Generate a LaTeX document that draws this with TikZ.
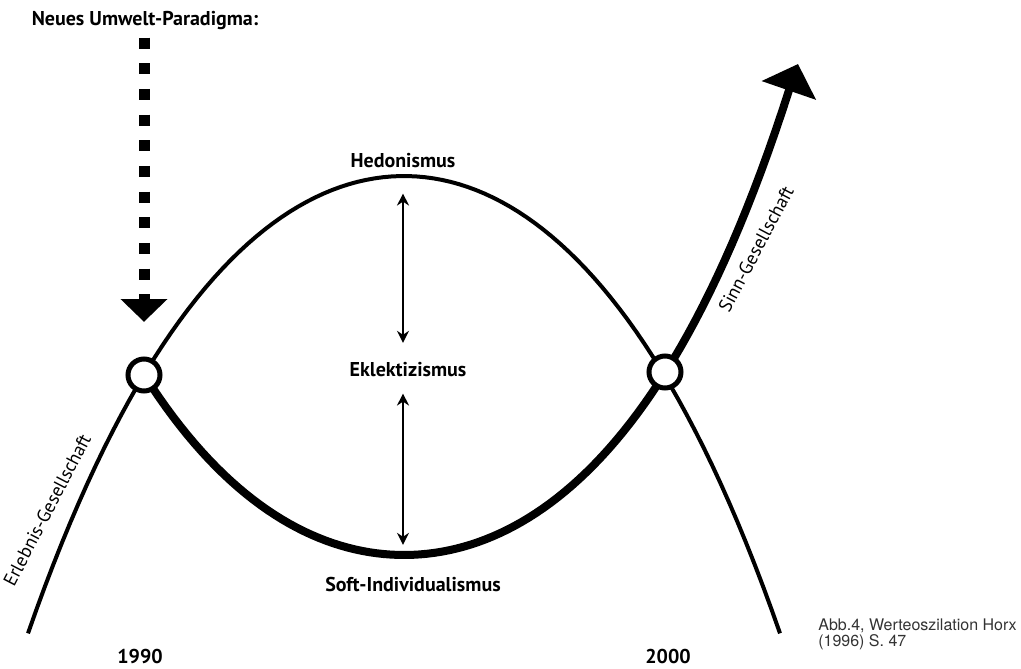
\documentclass[tikz,border=0pt]{standalone}
\usepackage{fontspec}
\setmainfont{PT Sans}
\newfontfamily\abbfont{TeX Gyre Heros}
\usetikzlibrary{arrows.meta}

\begin{document}
\begin{tikzpicture}[x=0.75pt,y=-0.75pt,
  lbl/.style={font=\bfseries\fontsize{15}{17}\selectfont, anchor=base, inner sep=0pt},
  kurvlbl/.style={font=\fontsize{14}{16}\selectfont, inner sep=0pt},
  ring/.style={circle, draw, fill=white, line width=3.75pt, minimum size=24pt, inner sep=0pt},
  duo/.style={{Stealth[length=9pt,width=9pt]}-{Stealth[length=9pt,width=9pt]}, line width=1.5pt},
  paradigm/.style={line width=8.25pt, dash pattern=on 8.25pt off 11pt, -{Triangle[length=17pt,width=34pt]}}]
\useasboundingbox (0,0) rectangle (1021,668);

% Kurven
\draw[line width=3pt, domain=28:780, samples=90] plot (\x, {176+336.5*((exp(0.004*(\x-404))+exp(-0.004*(\x-404)))/2-1)});
\coordinate (spitze) at (798,64);
\draw[line width=6pt, domain=144:790, samples=90, -{Triangle[length=21pt,width=42pt]}] plot (\x, {555-185.4*((exp(0.005*(\x-404))+exp(-0.005*(\x-404)))/2-1)}) -- (spitze);

% Wendepunkte
\node[ring] (c90) at (144,375) {};
\node[ring] (c00) at (665,372) {};

% Beschriftungen
\node[lbl] (para) at (145,25) {Neues Umwelt-Paradigma:};
\node[lbl] (hedo) at (403,167) {Hedonismus};
\node[lbl] (ekl) at (408,376) {Eklektizismus};
\node[lbl] (soft) at (413,591) {Soft-Individualismus};
\node[lbl] (y90) at (140,663) {1990};
\node[lbl] (y00) at (668,663) {2000};
\node[kurvlbl, rotate=62.5] (erl) at (47,510) {Erlebnis-Gesellschaft};
\node[kurvlbl, rotate=62] (sinn) at (756,249) {Sinn-Gesellschaft};
\node[font=\abbfont\fontsize{12}{12}\selectfont, align=left, anchor=north west, inner sep=0pt, text=black!80] (abb) at (818,619) {Abb.4, Werteoszilation Horx\\(1996) S. 47};

% Pfeile
\draw[paradigm, shorten <=6pt, shorten >=26pt] (para.south -| c90) -- (c90.north);
\draw[duo, shorten <=19.5pt, shorten >=14pt] (hedo.south) -- (hedo.south |- ekl.north);
\draw[duo, shorten <=12.75pt, shorten >=23.7pt] (ekl.south -| hedo) -- (soft.north -| hedo);
\end{tikzpicture}
\end{document}
